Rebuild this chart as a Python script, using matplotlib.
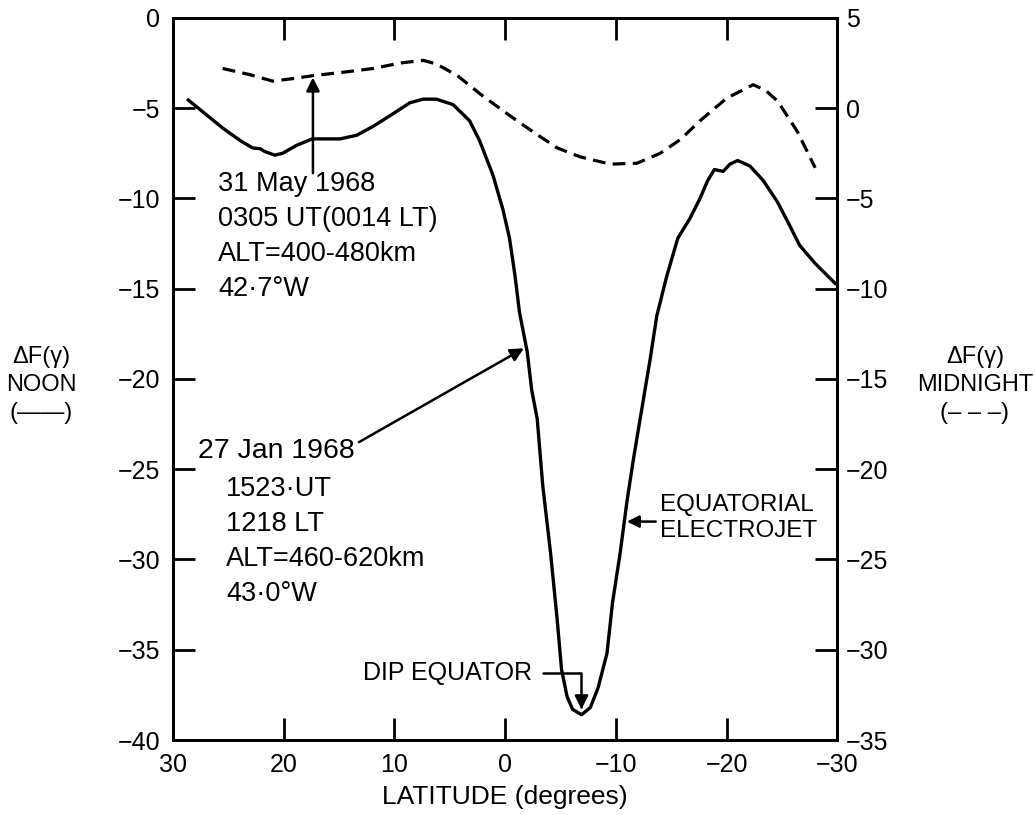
import matplotlib
matplotlib.use("Agg")
import matplotlib.pyplot as plt

plt.rcParams['font.family'] = ['Liberation Sans', 'DejaVu Sans']

# noon pass, 27 Jan 1968 (left axis)
noon_lat = [28.6, 26.9, 25.5, 23.9, 22.8, 22.1, 21.7, 20.8, 20.1, 18.8, 17.4,
            14.9, 13.4, 11.9, 10.1, 8.6, 7.4, 6.2, 4.7, 3.2, 2.3, 1.1, 0.2,
            -0.4, -0.9, -1.3, -2.0, -2.4, -2.9, -3.4, -4.1, -4.7, -5.1, -5.6,
            -6.1, -6.9, -7.7, -8.4, -9.2, -9.7, -10.4, -11.0, -11.6, -12.2,
            -12.5, -13.1, -13.7, -14.6, -15.6, -16.7, -17.6, -18.3, -18.9,
            -19.7, -20.3, -21.0, -22.1, -23.3, -24.6, -25.7, -26.6, -28.0, -29.8]
noon_dF = [-4.55, -5.4, -6.1, -6.8, -7.2, -7.25, -7.4, -7.6, -7.5, -7.05, -6.7,
           -6.7, -6.5, -6.0, -5.3, -4.7, -4.5, -4.5, -4.8, -5.7, -6.8, -8.7, -10.6,
           -12.2, -14.3, -16.3, -18.5, -20.6, -22.2, -25.9, -29.6, -33.3, -36.1, -37.6,
           -38.3, -38.6, -38.2, -37.1, -35.2, -32.4, -29.6, -26.8, -24.4, -22.2,
           -21.1, -18.9, -16.5, -14.3, -12.2, -11.1, -10.0, -9.0, -8.4,
           -8.5, -8.1, -7.9, -8.2, -9.0, -10.2, -11.5, -12.6, -13.6, -14.7]

# midnight pass, 31 May 1968 (right axis)
mid_lat = [25.5, 23.0, 21.0, 19.0, 17.4, 14.5, 11.9, 9.5, 7.4, 6.2, 4.3, 2.0,
           -0.4, -2.5, -4.7, -6.8, -9.5, -11.9, -14.0, -15.8, -17.6, -20.0,
           -22.4, -23.5, -24.6, -26.4, -28.0]
mid_dF = [2.2, 1.85, 1.5, 1.65, 1.8, 2.0, 2.2, 2.5, 2.65, 2.45, 1.8, 0.67,
          -0.4, -1.3, -2.2, -2.7, -3.1, -3.05, -2.5, -1.75, -0.7, 0.55,
          1.3, 1.0, 0.4, -1.3, -3.3]

xticks = [30, 20, 10, 0, -10, -20, -30]
left_ticks = [0, -5, -10, -15, -20, -25, -30, -35, -40]
right_ticks = [5, 0, -5, -10, -15, -20, -25, -30, -35]

fs = 18
fig = plt.figure(figsize=(10.35, 8.15), dpi=100)
fig.subplots_adjust(left=0.167, right=0.809, top=0.978, bottom=0.092)
ax = fig.add_subplot(111)
ax2 = ax.twinx()

ax.plot(noon_lat, noon_dF, color='black', lw=2.4, solid_joinstyle='round')
ax2.plot(mid_lat, mid_dF, color='black', lw=2.3, dashes=(4, 2.3))

ax.set_xlim(30, -30)
ax.set_ylim(-40, 0)
ax2.set_ylim(-35, 5)
ax.set_xticks(xticks)
ax.set_yticks(left_ticks)
ax2.set_yticks(right_ticks)

ax.tick_params(axis='x', direction='in', length=16, width=2, top=True,
               labelsize=fs, pad=9)
ax.tick_params(axis='y', direction='in', length=16, width=2, right=False,
               labelsize=fs, pad=9)
ax2.tick_params(axis='y', direction='in', length=16, width=2, labelsize=fs, pad=6)
for a in (ax, ax2):
    for s in a.spines.values():
        s.set_linewidth(2)

ax.set_xlabel('LATITUDE (degrees)', fontsize=19, labelpad=6)

# side labels
fig.text(0.040, 0.528, 'ΔF(γ)\nNOON\n(——)', fontsize=17, ha='center', va='center',
         linespacing=1.35)
fig.text(0.942, 0.528, 'ΔF(γ)\nMIDNIGHT\n(– – –)', fontsize=17, ha='center', va='center',
         linespacing=1.35)

# annotations
ax.text(25.9, -12.1, '31 May 1968\n0305 UT(0014 LT)\nALT=400-480km\n42·7°W',
        fontsize=19.5, ha='left', va='center', linespacing=1.45)
ax.annotate('', xy=(17.35, -3.3), xytext=(17.35, -8.6),
            arrowprops=dict(arrowstyle='-|>', color='black', lw=1.8,
                            mutation_scale=20, shrinkA=0, shrinkB=0))

ax.text(27.7, -24.0, '27 Jan 1968', fontsize=20.5, ha='left', va='center')
ax.text(25.2, -29.0, '1523·UT\n1218 LT\nALT=460-620km\n43·0°W',
        fontsize=19.5, ha='left', va='center', linespacing=1.45)
ax.annotate('', xy=(-1.7, -18.3), xytext=(13.2, -23.5),
            arrowprops=dict(arrowstyle='-|>', color='black', lw=1.8,
                            mutation_scale=20, shrinkA=0, shrinkB=0))

ax.annotate('DIP EQUATOR', xy=(-6.9, -38.3), xytext=(-2.4, -36.3),
            fontsize=18, ha='right', va='center',
            arrowprops=dict(arrowstyle='-|>', color='black', lw=1.8,
                            mutation_scale=20, shrinkA=6, shrinkB=0,
                            connectionstyle='angle,angleA=0,angleB=90,rad=0'))

ax.text(-14.0, -27.7, 'EQUATORIAL\nELECTROJET', fontsize=17.5, ha='left',
        va='center', linespacing=1.2)
ax.annotate('', xy=(-11.0, -27.9), xytext=(-13.6, -27.9),
            arrowprops=dict(arrowstyle='-|>', color='black', lw=1.8,
                            mutation_scale=18, shrinkA=0, shrinkB=0))

fig.savefig('out.png', dpi=100)
